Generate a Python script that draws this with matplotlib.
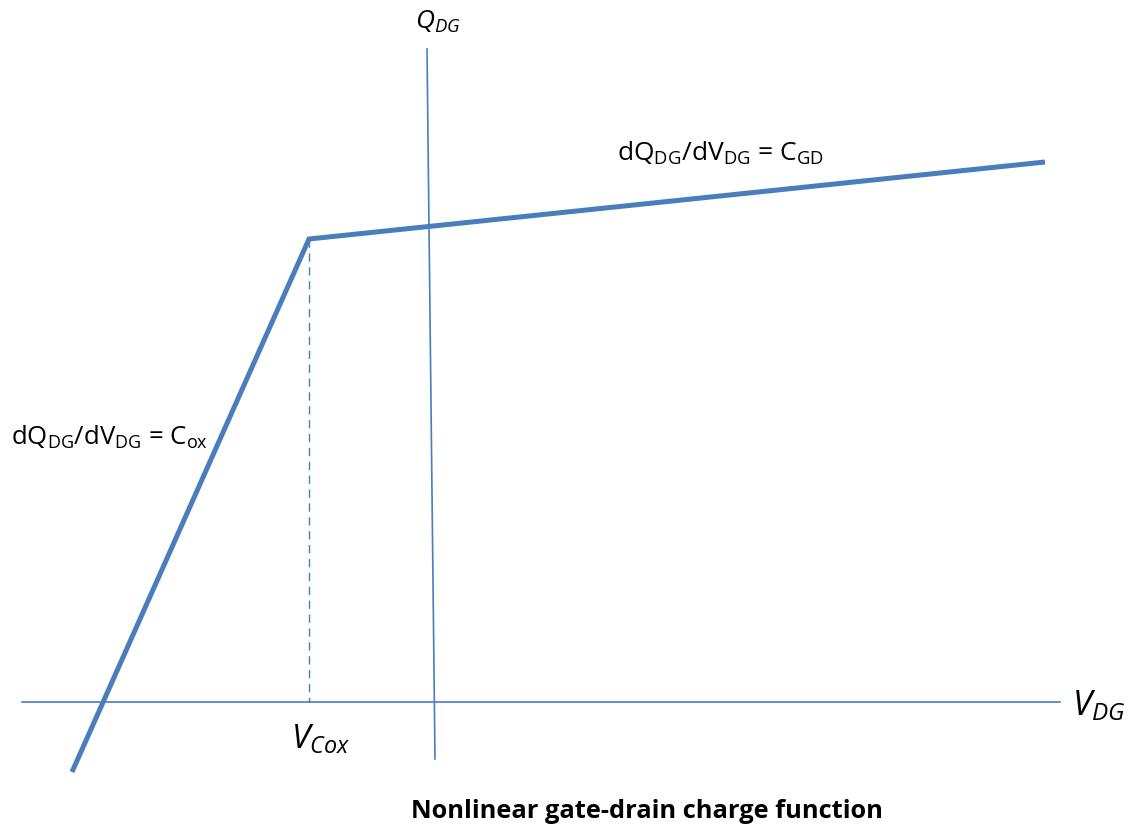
import matplotlib
matplotlib.use("Agg")
import matplotlib.pyplot as plt

# piecewise linear charge curve (diagram units, y grows downward like the picture)
curve_v = [72, 309, 1045]
curve_q = [773, 240, 163]

# axes of the diagram
haxis_v = [22, 1060]
haxis_q = [703, 703]
vaxis_v = [427, 435]
vaxis_q = [50, 760]

# dashed marker at the knee
knee_v = [309, 309]
knee_q = [240, 703]

BLUE = "#4a7ebb"

plt.rcParams["font.family"] = ["Open Sans", "DejaVu Sans"]
plt.rcParams["mathtext.fontset"] = "custom"
plt.rcParams["mathtext.rm"] = "Open Sans"
plt.rcParams["mathtext.it"] = "Open Sans:italic"

fig = plt.figure(figsize=(11.32, 8.29), dpi=100)
ax = fig.add_axes([0, 0, 1, 1])
ax.set_xlim(0, 1132)
ax.set_ylim(829, 0)
ax.axis("off")

# axes lines
ax.plot(haxis_v, haxis_q, color=BLUE, lw=1.2)
ax.plot(vaxis_v, vaxis_q, color=BLUE, lw=1.2)
ax.plot(knee_v, knee_q, color=BLUE, lw=1.0, ls=(0, (6, 4)))

# the curve
ax.plot(curve_v, curve_q, color=BLUE, lw=3.6, solid_capstyle="butt", solid_joinstyle="miter")

# labels
ax.text(438, 22, r"$Q_{DG}$", fontsize=19, ha="center", va="center")
ax.text(1099, 706, r"$V_{DG}$", fontsize=25, ha="center", va="center")
ax.text(321, 740, r"$V_{Cox}$", fontsize=24, ha="center", va="center")
ax.text(720, 153, r"dQ$_{\mathrm{DG}}$/dV$_{\mathrm{DG}}$ = C$_{\mathrm{GD}}$",
        fontsize=19, ha="center", va="center")
ax.text(110, 437, r"dQ$_{\mathrm{DG}}$/dV$_{\mathrm{DG}}$ = C$_{\mathrm{ox}}$",
        fontsize=18.5, ha="center", va="center")
ax.text(647, 812, "Nonlinear gate-drain charge function", fontsize=18.3,
        fontweight="bold", ha="center", va="center")

fig.savefig("out.png", dpi=100)
